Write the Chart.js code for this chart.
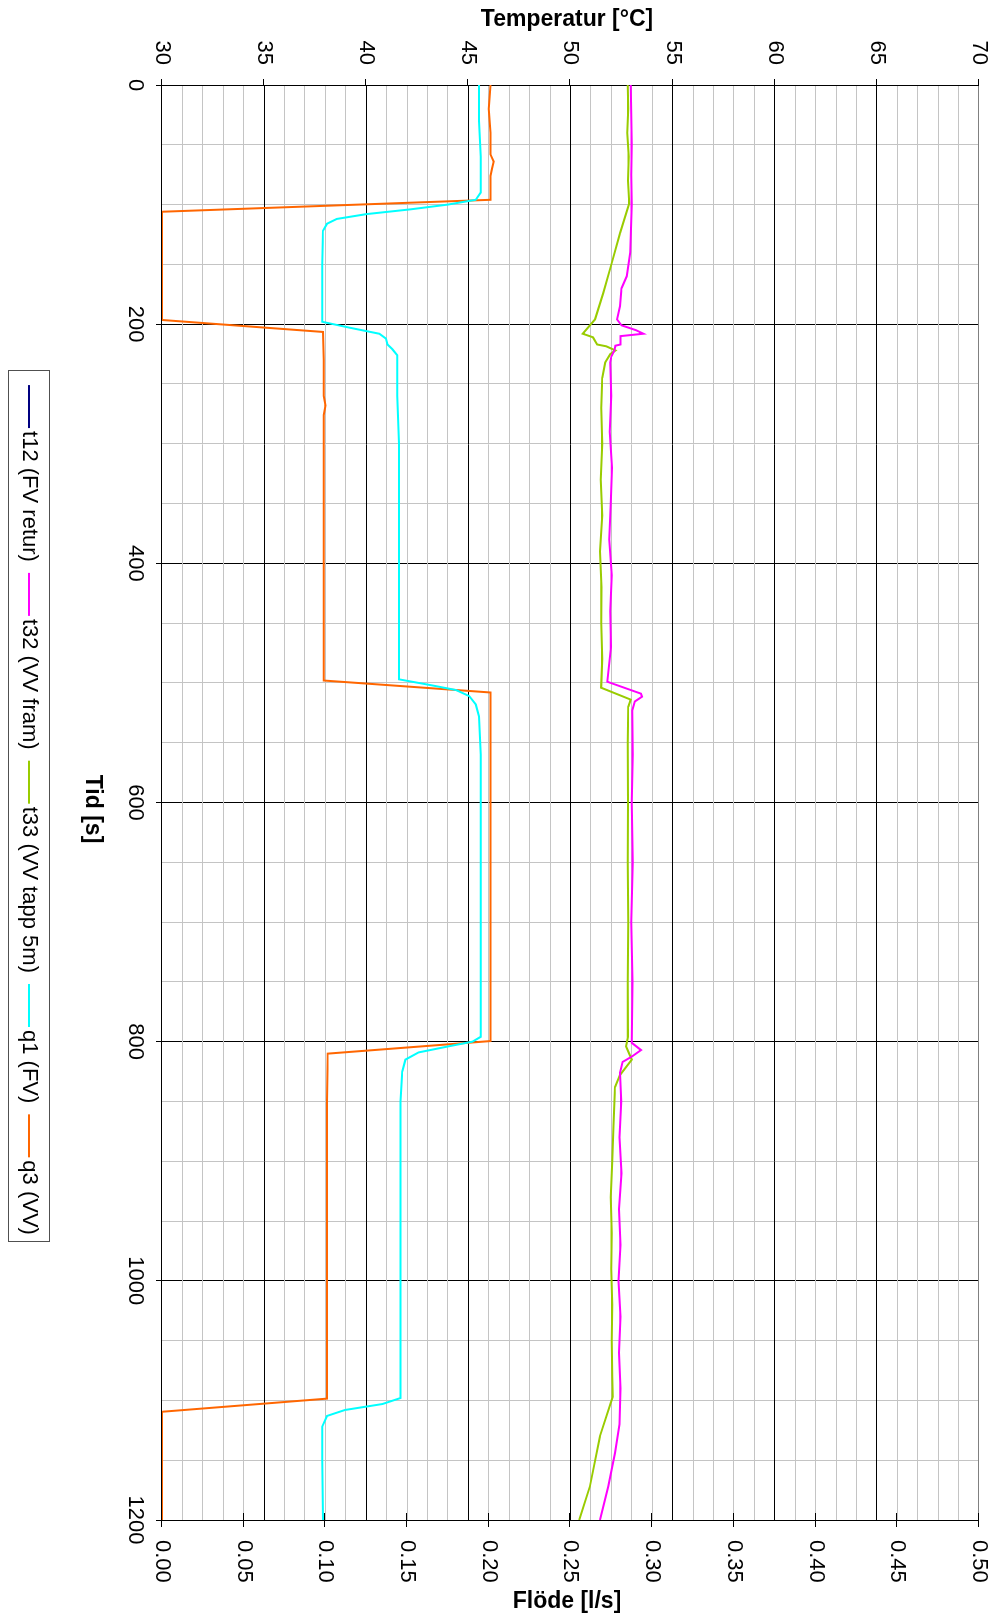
<!DOCTYPE html>
<html>
<head>
<meta charset="utf-8">
<title>Temperatur och flöde</title>
<script src="https://cdn.jsdelivr.net/npm/chart.js"></script>
<style>
  html, body { margin: 0; padding: 0; background: #fff; overflow: hidden; }
  /* the chart is laid out landscape and turned a quarter turn clockwise */
  #wrap {
    position: absolute; left: 0; top: 0;
    width: 1616px; height: 994px;
    transform-origin: 0 0;
    transform: translateX(994px) rotate(90deg);
  }
  canvas { display: block; }
</style>
</head>
<body>
<div id="wrap"><canvas id="c" width="1616" height="994"></canvas></div>
<script>
// ---- measured series -------------------------------------------------------
const t12Time = [];
const t12Temp = [];

const t32Time = [0, 25, 50, 75, 100, 140, 160, 170, 185, 196, 201, 205, 208, 210, 217,
  218, 222, 227, 232, 260, 290, 320, 350, 380, 410, 440, 470, 499, 509, 511.5,
  515.5, 523, 560, 600, 650, 700, 750, 801, 807, 812.5, 817, 826, 850, 880, 910,
  940, 970, 1000, 1030, 1060, 1090, 1120, 1144, 1172, 1200];
const t32Temp = [52.95, 52.98, 53.0, 52.97, 53.0, 52.92, 52.75, 52.5, 52.42, 52.28, 52.5, 53.2, 53.57, 52.45, 52.45,
  52.2, 52.15, 52.0, 51.95, 52.0, 51.92, 52.03, 51.97, 51.9, 52.02, 51.95, 51.98, 51.8, 53.45, 53.5,
  53.15, 53.02, 53.05, 53.0, 53.05, 52.98, 53.04, 53.0, 53.45, 53.0, 52.55, 52.42, 52.48, 52.4, 52.5,
  52.38, 52.45, 52.35, 52.45, 52.38, 52.45, 52.4, 52.18, 51.85, 51.44];

const t33Time = [0, 20, 40, 60, 80, 99, 124, 150, 174, 196, 208, 211, 217, 218.5, 222,
  225, 232, 245, 270, 300, 330, 360, 390, 420, 450, 480, 504, 514, 520, 550,
  600, 650, 700, 750, 796, 804, 815, 828, 838, 870, 900, 930, 960, 990, 1020,
  1050, 1080, 1097, 1130, 1172, 1200];
const t33Temp = [52.8, 52.83, 52.78, 52.85, 52.82, 52.88, 52.42, 52.0, 51.6, 51.2, 50.6, 51.1, 51.3, 51.75, 52.2,
  51.95, 51.7, 51.55, 51.5, 51.55, 51.48, 51.55, 51.45, 51.52, 51.5, 51.55, 51.5, 52.95, 52.83, 52.8,
  52.82, 52.8, 52.83, 52.8, 52.82, 52.72, 53.0, 52.42, 52.18, 52.1, 52.05, 51.97, 52.02, 52.0, 52.05,
  52.02, 52.05, 52.07, 51.44, 50.95, 50.43];

const q1Time = [0, 30, 60, 90, 96, 100, 104, 108, 112, 116, 122, 150, 198, 203, 208,
  212, 217, 221, 226, 260, 300, 350, 400, 450, 497, 502, 506, 511, 518, 528,
  560, 600, 650, 700, 750, 796, 800, 804, 809, 815, 825, 850, 900, 950, 1000,
  1050, 1098, 1103, 1108, 1113, 1122, 1150, 1200];
const q1Flow = [0.194, 0.194, 0.195, 0.195, 0.192, 0.175, 0.152, 0.125, 0.107, 0.101, 0.0985, 0.098, 0.098, 0.115, 0.133,
  0.137, 0.138, 0.141, 0.144, 0.144, 0.145, 0.145, 0.145, 0.145, 0.145, 0.165, 0.180, 0.188, 0.192, 0.194,
  0.195, 0.195, 0.195, 0.195, 0.195, 0.195, 0.190, 0.175, 0.157, 0.149, 0.147, 0.146, 0.146, 0.146, 0.146,
  0.146, 0.146, 0.135, 0.112, 0.101, 0.098, 0.098, 0.0985];

const q3Time = [0, 20, 40, 58, 64, 70, 76, 96, 106, 196.5, 206.5, 230, 260, 268, 276,
  300, 350, 400, 450, 498, 508, 550, 600, 650, 700, 750, 799.5, 810, 850, 900,
  950, 1000, 1050, 1098.5, 1109.5, 1200];
const q3Flow = [0.201, 0.2, 0.201, 0.201, 0.203, 0.202, 0.201, 0.201, 0, 0, 0.0985, 0.099, 0.099, 0.1, 0.099,
  0.099, 0.099, 0.099, 0.099, 0.099, 0.201, 0.201, 0.201, 0.201, 0.201, 0.201, 0.201, 0.1015, 0.101, 0.101,
  0.101, 0.101, 0.101, 0.101, 0, 0];

// ---- axis labels -------------------------------------------------------------
const timeLabels = [0, 200, 400, 600, 800, 1000, 1200];
const tempLabels = [30, 35, 40, 45, 50, 55, 60, 65, 70];
const flowLabels = ['0.00', '0.05', '0.10', '0.15', '0.20', '0.25', '0.30', '0.35', '0.40', '0.45', '0.50'];

const FONT = 'Liberation Sans, Arial, Helvetica, sans-serif';
const pts = (xs, ys) => xs.map((x, i) => ({ x, y: ys[i] }));

function series(label, color, xs, ys, axis) {
  return {
    label, data: pts(xs, ys), yAxisID: axis,
    borderColor: color, backgroundColor: color,
    borderWidth: 2, pointRadius: 0, tension: 0, fill: false
  };
}

// tick marks on the value axes, axis titles and the boxed legend
const decorations = {
  id: 'decorations',
  afterDatasetsDraw(chart) {
    const ctx = chart.ctx;
    const ty = chart.scales.y, fy = chart.scales.y1;
    ctx.save();
    ctx.strokeStyle = '#000';
    ctx.lineWidth = 1;
    ty.ticks.forEach(t => {
      if (!tempLabels.includes(t.value)) return;
      const y = Math.round(ty.getPixelForValue(t.value)) + 0.5;
      ctx.beginPath();
      ctx.moveTo(ty.right - 6, y);
      ctx.lineTo(ty.right, y);
      ctx.stroke();
    });
    fy.ticks.forEach(t => {
      const y = Math.round(fy.getPixelForValue(t.value)) + 0.5;
      ctx.beginPath();
      ctx.moveTo(fy.left - 7, y);
      ctx.lineTo(fy.left + 7, y);
      ctx.stroke();
    });
    ctx.restore();
  },
  afterDraw(chart) {
    const ctx = chart.ctx;
    const midY = 427;
    ctx.save();
    ctx.fillStyle = '#000';
    ctx.textAlign = 'center';
    ctx.textBaseline = 'middle';
    ctx.font = 'bold 23px ' + FONT;
    // left and right titles read upward
    [['Temperatur [°C]', 20], ['Flöde [l/s]', 1602]].forEach(([txt, x]) => {
      ctx.save();
      ctx.translate(x, midY);
      ctx.rotate(-Math.PI / 2);
      ctx.fillText(txt, 0, 0);
      ctx.restore();
    });
    ctx.fillText('Tid [s]', 809, 902);

    // legend
    ctx.font = '22px ' + FONT;
    const items = chart.data.datasets.map(d => ({ label: d.label, color: d.borderColor }));
    const lineLen = 43, lineGap = 3, itemGap = 11;
    const widths = items.map(it => lineLen + lineGap + ctx.measureText(it.label).width);
    const total = widths.reduce((a, b) => a + b, 0) + itemGap * (items.length - 1);
    const cy = 965;
    let x = 810 - total / 2;
    const boxL = Math.round(x - 15) + 0.5, boxR = Math.round(x + total + 6) + 0.5;
    ctx.strokeStyle = '#505050';
    ctx.lineWidth = 1;
    ctx.strokeRect(boxL, 944.5, boxR - boxL, 41);
    ctx.textAlign = 'left';
    items.forEach((it, i) => {
      ctx.strokeStyle = it.color;
      ctx.lineWidth = 2;
      ctx.beginPath();
      ctx.moveTo(x, cy);
      ctx.lineTo(x + lineLen, cy);
      ctx.stroke();
      ctx.fillStyle = '#000';
      ctx.fillText(it.label, x + lineLen + lineGap, cy);
      x += widths[i] + itemGap;
    });
    ctx.restore();
  }
};

const tickFont = { family: FONT, size: 22 };
const clear = 'rgba(0,0,0,0)';

new Chart(document.getElementById('c'), {
  type: 'line',
  data: {
    datasets: [
      series('t12 (FV retur)', '#000080', t12Time, t12Temp, 'y'),
      series('t32 (VV fram)', '#FF00FF', t32Time, t32Temp, 'y'),
      series('t33 (VV tapp 5m)', '#99CC00', t33Time, t33Temp, 'y'),
      series('q1 (FV)', '#00FFFF', q1Time, q1Flow, 'y1'),
      series('q3 (VV)', '#FF6600', q3Time, q3Flow, 'y1')
    ]
  },
  options: {
    responsive: false,
    animation: false,
    layout: { padding: { top: 15, left: 0, right: 0, bottom: 0 } },
    plugins: { legend: { display: false }, tooltip: { enabled: false } },
    scales: {
      x: {
        type: 'linear', position: 'bottom', min: 0, max: 1200,
        ticks: {
          stepSize: 50, autoSkip: false, maxRotation: 0, minRotation: 0,
          color: '#000', font: tickFont, padding: 8,
          callback: v => timeLabels.includes(v) ? String(v) : ''
        },
        grid: {
          lineWidth: 1, tickLength: 6,
          color: c => (c.tick && c.tick.value % 200 === 0) ? '#000' : '#c4c4c4',
          tickColor: c => (c.tick && c.tick.value % 200 === 0) ? '#000' : clear
        },
        border: { color: '#000', width: 1 },
        afterFit: s => { s.height = 162; }
      },
      y: {
        type: 'linear', position: 'left', min: 30, max: 70,
        ticks: {
          stepSize: 1, autoSkip: false, maxTicksLimit: 100,
          color: '#000', font: tickFont, padding: 0,
          callback: v => tempLabels.includes(v) ? String(v) : ''
        },
        grid: {
          lineWidth: 1, tickLength: 20, tickColor: clear,
          color: c => {
            const v = c.tick ? c.tick.value : 0;
            if (v === 70) return '#808080';
            return v % 5 === 0 ? '#000' : '#c4c4c4';
          }
        },
        border: { color: '#000', width: 1 },
        afterFit: s => { s.width = 85; }
      },
      y1: {
        type: 'linear', position: 'right', min: 0, max: 0.5,
        ticks: {
          stepSize: 0.05, autoSkip: false,
          color: '#000', font: tickFont, padding: 0,
          callback: v => {
            const t = Number(v).toFixed(2);
            return flowLabels.includes(t) ? t : '';
          }
        },
        grid: { drawOnChartArea: false, tickLength: 20, tickColor: clear, lineWidth: 1 },
        border: { color: '#000', width: 1 },
        afterFit: s => { s.width = 96; }
      }
    }
  },
  plugins: [decorations]
});
</script>
</body>
</html>
